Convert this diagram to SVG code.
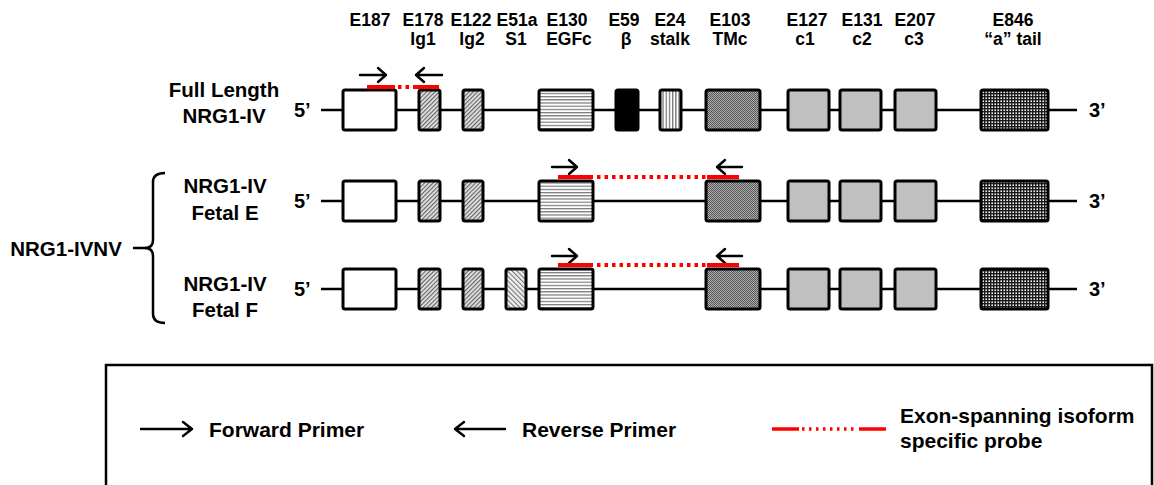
<svg xmlns="http://www.w3.org/2000/svg" width="1154" height="485" viewBox="0 0 1154 485">
<style>
text{font-family:"Liberation Sans",Arial,sans-serif;font-weight:bold;fill:#000}
.hd{font-size:17.5px;text-anchor:middle}
.lb{font-size:20.5px;text-anchor:middle}
.end{font-size:20px}
.lg{font-size:21px}
.bb{stroke:#000;stroke-width:2.5;fill:none}
.ex{stroke:#000;stroke-width:3}
.arr{stroke:#000;stroke-width:2.4;fill:none;stroke-linecap:round;stroke-linejoin:round}
.ps{stroke:#f00;stroke-width:4;fill:none}
.pd{stroke:#f00;stroke-width:4;fill:none;stroke-dasharray:3.5,4}
.w{fill:#fff}
.ig{fill:url(#diag)}
.s1{fill:url(#diag2)}
.egf{fill:url(#horiz)}
.beta{fill:#000}
.stk{fill:url(#vert)}
.tm{fill:url(#check)}
.c{fill:#c0c0c0}
.tl{fill:url(#grid)}
</style>
<defs>
<pattern id="diag" width="3" height="3" patternUnits="userSpaceOnUse" patternTransform="rotate(45)">
<rect width="3" height="3" fill="#e6e6e6"/><rect width="1.2" height="3" fill="#666"/>
</pattern>
<pattern id="diag2" width="3.4" height="3.4" patternUnits="userSpaceOnUse" patternTransform="rotate(-45)">
<rect width="3.4" height="3.4" fill="#f0f0f0"/><rect width="1.1" height="3.4" fill="#777"/>
</pattern>
<pattern id="horiz" width="4" height="3.2" patternUnits="userSpaceOnUse">
<rect width="4" height="3.2" fill="#fff"/><rect width="4" height="1.2" fill="#777"/>
</pattern>
<pattern id="vert" width="3.2" height="4" patternUnits="userSpaceOnUse">
<rect width="3.2" height="4" fill="#fff"/><rect width="1.3" height="4" fill="#777"/>
</pattern>
<pattern id="check" width="2" height="2" patternUnits="userSpaceOnUse">
<rect width="2" height="2" fill="#b0b0b0"/><rect width="1" height="1" fill="#555"/><rect x="1" y="1" width="1" height="1" fill="#555"/>
</pattern>
<pattern id="grid" width="3" height="3" patternUnits="userSpaceOnUse">
<rect width="3" height="3" fill="#eee"/><rect width="3" height="1.4" fill="#1a1a1a"/><rect width="1.4" height="3" fill="#1a1a1a"/>
</pattern>
</defs>

<g id="headers">
<text class="hd" x="370" y="26">E187</text>
<text class="hd" x="423" y="26">E178</text><text class="hd" x="423" y="45">Ig1</text>
<text class="hd" x="471" y="26">E122</text><text class="hd" x="472" y="45">Ig2</text>
<text class="hd" x="517" y="26">E51a</text><text class="hd" x="516" y="45">S1</text>
<text class="hd" x="567" y="26">E130</text><text class="hd" x="569" y="45">EGFc</text>
<text class="hd" x="624" y="26">E59</text><text class="hd" x="626" y="45">β</text>
<text class="hd" x="670" y="26">E24</text><text class="hd" x="670" y="45">stalk</text>
<text class="hd" x="730" y="26">E103</text><text class="hd" x="730" y="45">TMc</text>
<text class="hd" x="807" y="26">E127</text><text class="hd" x="805" y="45">c1</text>
<text class="hd" x="862" y="26">E131</text><text class="hd" x="862" y="45">c2</text>
<text class="hd" x="915" y="26">E207</text><text class="hd" x="914" y="45">c3</text>
<text class="hd" x="1013" y="26">E846</text><text class="hd" x="1013" y="45">“a” tail</text>
</g>

<g id="row-labels">
<text class="lb" x="224" y="97">Full Length</text>
<text class="lb" x="224" y="123">NRG1-IV</text>
<text class="lb" x="225" y="193">NRG1-IV</text>
<text class="lb" x="225" y="220">Fetal E</text>
<text class="lb" x="225" y="291">NRG1-IV</text>
<text class="lb" x="225" y="317">Fetal F</text>
<text class="lb" x="66" y="256">NRG1-IVNV</text>
<text class="end" x="294" y="117">5’</text>
<text class="end" x="294" y="208">5’</text>
<text class="end" x="294" y="296">5’</text>
<text class="end" x="1089" y="117">3’</text>
<text class="end" x="1089" y="208">3’</text>
<text class="end" x="1089" y="296">3’</text>
</g>

<g id="connectors">
<line class="bb" x1="321" y1="110" x2="1077" y2="110"/>
<line class="bb" x1="321" y1="201" x2="1077" y2="201"/>
<line class="bb" x1="321" y1="289" x2="1077" y2="289"/>
<path class="bb" d="M165,173 Q153,173 153,182 L153,240 Q153,248 145,248 Q153,248 153,256 L153,314 Q153,323 165,323"/>
<line class="bb" x1="133" y1="248" x2="146" y2="248"/>
</g>

<g id="row1">
<rect id="r1-e187" class="ex w" x="343" y="90" width="53" height="40" rx="2"/>
<rect id="r1-ig1" class="ex ig" x="419" y="90" width="21" height="40" rx="2"/>
<rect id="r1-ig2" class="ex ig" x="463" y="90" width="20" height="40" rx="2"/>
<rect id="r1-egfc" class="ex egf" x="539" y="90" width="54" height="40" rx="2"/>
<rect id="r1-beta" class="ex beta" x="616" y="90" width="22" height="40" rx="2"/>
<rect id="r1-stalk" class="ex stk" x="660" y="90" width="21" height="40" rx="2"/>
<rect id="r1-tmc" class="ex tm" x="706" y="90" width="54" height="40" rx="2"/>
<rect id="r1-c1" class="ex c" x="788" y="90" width="41" height="40" rx="2"/>
<rect id="r1-c2" class="ex c" x="840" y="90" width="41" height="40" rx="2"/>
<rect id="r1-c3" class="ex c" x="895" y="90" width="41" height="40" rx="2"/>
<rect id="r1-tail" class="ex tl" x="981" y="90" width="67" height="40" rx="2"/>
</g>

<g id="row2">
<rect id="r2-e187" class="ex w" x="343" y="181" width="53" height="40" rx="2"/>
<rect id="r2-ig1" class="ex ig" x="419" y="181" width="21" height="40" rx="2"/>
<rect id="r2-ig2" class="ex ig" x="463" y="181" width="20" height="40" rx="2"/>
<rect id="r2-egfc" class="ex egf" x="539" y="181" width="54" height="40" rx="2"/>
<rect id="r2-tmc" class="ex tm" x="706" y="181" width="54" height="40" rx="2"/>
<rect id="r2-c1" class="ex c" x="788" y="181" width="41" height="40" rx="2"/>
<rect id="r2-c2" class="ex c" x="840" y="181" width="41" height="40" rx="2"/>
<rect id="r2-c3" class="ex c" x="895" y="181" width="41" height="40" rx="2"/>
<rect id="r2-tail" class="ex tl" x="981" y="181" width="67" height="40" rx="2"/>
</g>

<g id="row3">
<rect id="r3-e187" class="ex w" x="343" y="269" width="53" height="40" rx="2"/>
<rect id="r3-ig1" class="ex ig" x="419" y="269" width="21" height="40" rx="2"/>
<rect id="r3-ig2" class="ex ig" x="463" y="269" width="20" height="40" rx="2"/>
<rect id="r3-s1" class="ex s1" x="506" y="269" width="20" height="40" rx="2"/>
<rect id="r3-egfc" class="ex egf" x="539" y="269" width="54" height="40" rx="2"/>
<rect id="r3-tmc" class="ex tm" x="706" y="269" width="54" height="40" rx="2"/>
<rect id="r3-c1" class="ex c" x="788" y="269" width="41" height="40" rx="2"/>
<rect id="r3-c2" class="ex c" x="840" y="269" width="41" height="40" rx="2"/>
<rect id="r3-c3" class="ex c" x="895" y="269" width="41" height="40" rx="2"/>
<rect id="r3-tail" class="ex tl" x="981" y="269" width="67" height="40" rx="2"/>
</g>

<g id="probes">
<path class="arr" d="M360,75 H386 M378,68 L386,75 L378,82"/>
<path class="arr" d="M442,75 H416 M424,68 L416,75 L424,82"/>
<line class="ps" x1="367" y1="87" x2="395" y2="87"/>
<line class="pd" x1="398" y1="87" x2="412" y2="87"/>
<line class="ps" x1="413" y1="87" x2="439" y2="87"/>

<path class="arr" d="M552,167 H577 M569,160 L577,167 L569,174"/>
<path class="arr" d="M742,167 H717 M725,160 L717,167 L725,174"/>
<line class="ps" x1="558" y1="177" x2="593" y2="177"/>
<line class="pd" x1="597" y1="177" x2="706" y2="177"/>
<line class="ps" x1="707" y1="177" x2="739" y2="177"/>

<path class="arr" d="M552,256 H577 M569,249 L577,256 L569,263"/>
<path class="arr" d="M742,256 H717 M725,249 L717,256 L725,263"/>
<line class="ps" x1="558" y1="265" x2="593" y2="265"/>
<line class="pd" x1="597" y1="265" x2="706" y2="265"/>
<line class="ps" x1="707" y1="265" x2="739" y2="265"/>
</g>

<g id="legend">
<rect x="106" y="365" width="1046" height="122" fill="none" stroke="#000" stroke-width="2.5"/>
<path class="arr" d="M141,429 H192 M183,422 L192,429 L183,436"/>
<text class="lg" x="209" y="437">Forward Primer</text>
<path class="arr" d="M505,429 H455 M464,422 L455,429 L464,436"/>
<text class="lg" x="522" y="437">Reverse Primer</text>
<line class="ps" x1="772" y1="429" x2="799" y2="429" style="stroke-width:3.5"/>
<line class="pd" x1="802" y1="429" x2="857" y2="429" style="stroke-width:3.5;stroke-dasharray:2.5,4.5"/>
<line class="ps" x1="859" y1="429" x2="886" y2="429" style="stroke-width:3.5"/>
<text class="lg" x="900" y="423">Exon-spanning isoform</text>
<text class="lg" x="900" y="448">specific probe</text>
</g>
</svg>
